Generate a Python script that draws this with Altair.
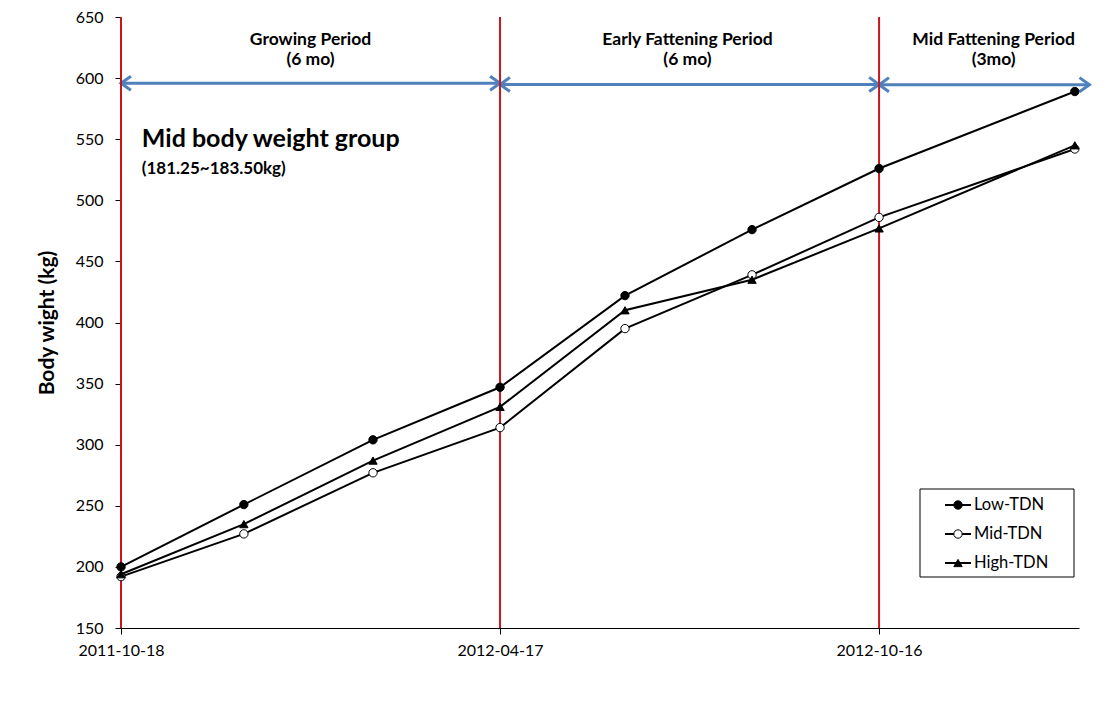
import altair as alt
import pandas as pd

# ---------------- data ----------------
dates = ["2011-10-18", "2011-12-16", "2012-02-16", "2012-04-17",
         "2012-06-16", "2012-08-16", "2012-10-16", "2013-01-18"]
low_tdn = [200, 251, 304, 347, 422, 476, 526, 589]
mid_tdn = [192, 227, 277, 314, 395, 439, 486, 542]
high_tdn = [194, 235, 287, 331, 410, 435, 477, 545]

series_names = ["Low-TDN", "Mid-TDN", "High-TDN"]
series_fill = ["black", "white", "black"]
series_shape = ["circle", "circle", "triangle-up"]

x_tick_dates = ["2011-10-18", "2012-04-17", "2012-10-16"]
y_ticks = [150, 200, 250, 300, 350, 400, 450, 500, 550, 600, 650]

period_boundaries = ["2011-10-18", "2012-04-17", "2012-10-16"]
period_start = ["2011-10-18", "2012-04-17", "2012-10-16"]
period_end = ["2012-04-17", "2012-10-16", "2013-01-25"]
period_level = [595.8, 594.8, 594.6]
period_name = ["Growing Period", "Early Fattening Period", "Mid Fattening Period"]
period_len = ["(6 mo)", "(6 mo)", "(3mo)"]
period_label_date = ["2012-01-17", "2012-07-16", "2012-12-10"]

group_title = "Mid body weight group"
group_sub = "(181.25~183.50kg)"
y_title = "Body wight (kg)"

FONT = "Lato"

# ---------------- tables ----------------
rows = []
for name, vals in zip(series_names, [low_tdn, mid_tdn, high_tdn]):
    for d, v in zip(dates, vals):
        rows.append({"date": d, "weight": v, "series": name})
df = pd.DataFrame(rows)

arrows = pd.DataFrame({"start": period_start, "end": period_end, "level": period_level})
labels = pd.DataFrame({"date": period_label_date, "name": period_name, "len": period_len})
bounds = pd.DataFrame({"date": period_boundaries})


def dt(s):
    y, m, d = (int(p) for p in s.split("-"))
    return alt.DateTime(year=y, month=m, date=d, utc=True)


x_scale = alt.Scale(type="utc", domain=[dt("2011-10-18"), dt("2013-01-20")])
x_axis = alt.Axis(values=[dt(s) for s in x_tick_dates],
                  labelExpr="utcFormat(datum.value, '%Y-%m-%d')",
                  labelAlign="center", labelFlush=False, labelOverlap=False,
                  grid=False, domainColor="black",
                  tickColor="black", tickSize=6, labelFont=FONT, labelFontSize=16,
                  labelColor="black", labelPadding=8, title=None)
y_scale = alt.Scale(domain=[150, 650], nice=False, zero=False)
y_axis = alt.Axis(values=y_ticks, grid=False, domainColor="black", tickColor="black",
                  tickSize=6, labelFont=FONT, labelFontSize=16, labelColor="black",
                  labelPadding=12, title=y_title, titleFont=FONT, titleFontSize=21,
                  titleFontWeight="bold", titleColor="black", titlePadding=18)


def X(field):
    return alt.X(field, type="temporal", scale=x_scale, axis=x_axis)


def Y(field):
    return alt.Y(field, type="quantitative", scale=y_scale, axis=y_axis)


# arrows
arrow_rules = alt.Chart(arrows).mark_rule(color="#4F81BD", strokeWidth=3).encode(
    x=X("start"), x2="end", y=Y("level"))
left_heads = alt.Chart(arrows).mark_point(
    shape="M 1.4 -1 L 0 0 L 1.4 1", filled=False, stroke="#4F81BD",
    strokeWidth=3, size=200, opacity=1).encode(x=X("start"), y=Y("level"))
right_heads = alt.Chart(arrows).mark_point(
    shape="M -1.4 -1 L 0 0 L -1.4 1", filled=False, stroke="#4F81BD",
    strokeWidth=3, size=200, opacity=1).encode(x=X("end"), y=Y("level"))

# red period boundaries
red_rules = alt.Chart(bounds).mark_rule(color="#C8161D", strokeWidth=2).encode(
    x=X("date"), y=alt.datum(650), y2=alt.datum(150))

# data lines + markers
lines = alt.Chart(df).mark_line(color="black", strokeWidth=2).encode(
    x=X("date"), y=Y("weight"), detail="series:N")
points = alt.Chart(df).mark_point(filled=True, stroke="black", strokeWidth=1,
                                  size=70, opacity=1).encode(
    x=X("date"), y=Y("weight"),
    shape=alt.Shape("series:N", scale=alt.Scale(domain=series_names, range=series_shape), legend=None),
    fill=alt.Fill("series:N", scale=alt.Scale(domain=series_names, range=series_fill), legend=None),
)

# period labels
name_text = alt.Chart(labels).mark_text(font=FONT, fontSize=17.5, fontWeight="bold",
                                        align="center", baseline="middle", color="black").encode(
    x=X("date"), y=alt.datum(631.5), text="name:N")
len_text = alt.Chart(labels).mark_text(font=FONT, fontSize=17.5, fontWeight="bold",
                                       align="center", baseline="middle", color="black").encode(
    x=X("date"), y=alt.datum(615.2), text="len:N")

# group title
title_df = pd.DataFrame({"t": [group_title]})
sub_df = pd.DataFrame({"t": [group_sub]})
g_title = alt.Chart(title_df).mark_text(font=FONT, fontSize=25, fontWeight="bold",
                                        align="left", baseline="middle", color="black").encode(
    x=alt.datum(dt("2011-10-28")), y=alt.datum(550), text="t:N")
g_sub = alt.Chart(sub_df).mark_text(font=FONT, fontSize=17, fontWeight="bold",
                                    align="left", baseline="middle", color="black").encode(
    x=alt.datum(dt("2011-10-28")), y=alt.datum(526), text="t:N")

# manual legend (line + marker + label)
legend_layers = [
    alt.Chart(pd.DataFrame({"t": ["box"]})).mark_rect(fill="white", stroke="black", strokeWidth=1).encode(
        x=alt.value(799), x2=alt.value(953), y=alt.value(472), y2=alt.value(560))
]
for i, (name, fill, shp) in enumerate(zip(series_names, series_fill, series_shape)):
    ld = pd.DataFrame({"series": [name]})
    yy = 488 + 29 * i
    legend_layers.append(alt.Chart(ld).mark_rule(color="black", strokeWidth=2).encode(
        x=alt.value(824), x2=alt.value(850), y=alt.value(yy)))
    legend_layers.append(alt.Chart(ld).mark_point(shape=shp, fill=fill, stroke="black", strokeWidth=1,
                                                  size=70, opacity=1, filled=True).encode(
        x=alt.value(837), y=alt.value(yy)))
    legend_layers.append(alt.Chart(ld).mark_text(font=FONT, fontSize=16.5, align="left",
                                                 baseline="middle", color="black").encode(
        x=alt.value(853), y=alt.value(yy), text="series:N"))

chart = alt.layer(
    arrow_rules, left_heads, right_heads, red_rules, lines, points,
    name_text, len_text, g_title, g_sub, *legend_layers
).properties(
    width=958, height=611,
    autosize=alt.AutoSizeParams(type="none"),
    padding={"left": 113, "top": 9, "right": 18, "bottom": 66},
    background="white",
).configure_view(stroke=None)

chart.save("out.html", embed_options={"renderer": "svg", "actions": False})
